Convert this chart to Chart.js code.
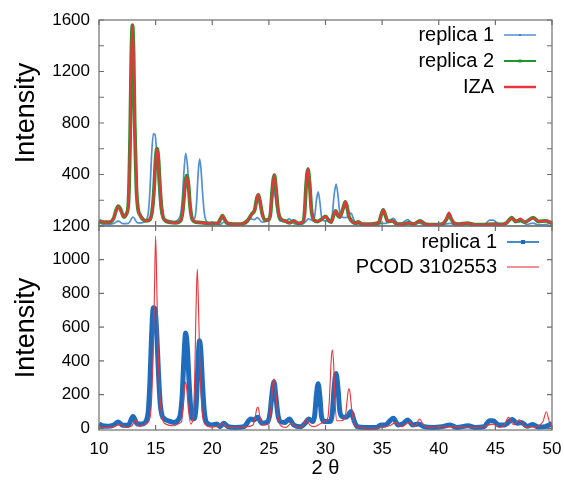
<!DOCTYPE html>
<html>
<head>
<meta charset="utf-8">
<script src="https://cdn.jsdelivr.net/npm/chart.js@4.4.0/dist/chart.umd.min.js"></script>
<style>
body { margin: 0; background: #fff; }
#wrap { position: relative; width: 564px; height: 481px; }
canvas { position: absolute; left: 0; top: 0; }
</style>
</head>
<body>
<div id="wrap">
<canvas id="topChart" width="564" height="481"></canvas>
<canvas id="bottomChart" width="564" height="481"></canvas>
</div>
<script>
// tick values
var xTicks = [10, 15, 20, 25, 30, 35, 40, 45, 50];
var topYTicks = [0, 200, 400, 600, 800, 1000, 1200, 1400, 1600];
var bottomYTicks = [0, 200, 400, 600, 800, 1000, 1200];

// replica 1 (same pattern in both panels)
var rep1Theta = [
  10.0, 10.3, 10.8, 11.3, 11.7, 12.1, 12.6, 13.0, 13.4, 13.8,
  14.0, 14.2, 14.35, 14.5, 14.65, 14.8, 14.95, 15.1, 15.25, 15.4,
  15.55, 15.8, 16.1, 16.6, 17.0, 17.2, 17.35, 17.5, 17.65, 17.8,
  17.95, 18.1, 18.3, 18.45, 18.6, 18.75, 18.88, 19.0, 19.15, 19.3,
  19.5, 20.0, 20.4, 20.7, 21.0, 21.4, 22.0, 22.8, 23.4, 23.7,
  24.0, 24.4, 24.9, 25.1, 25.3, 25.45, 25.6, 25.8, 26.0, 26.4,
  26.8, 27.2, 27.8, 28.2, 28.5, 28.9, 29.05, 29.2, 29.35, 29.5,
  29.65, 29.9, 30.4, 30.6, 30.75, 30.93, 31.1, 31.25, 31.45, 31.8,
  32.0, 32.25, 32.5, 32.8, 33.5, 34.5, 34.9, 35.3, 35.7, 36.0,
  36.4, 36.8, 37.25, 37.7, 38.2, 38.7, 39.5, 40.3, 41.0, 41.6,
  42.6, 43.2, 44.0, 44.5, 44.8, 45.3, 45.8, 46.5, 46.9, 47.3,
  47.8, 48.3, 48.8, 49.4, 50.0
];
var rep1Int = [
  25, 15, 12, 20, 38, 18, 20, 70, 25, 25,
  30, 50, 100, 280, 560, 715, 710, 560, 330, 150,
  80, 55, 45, 35, 50, 90, 200, 420, 565, 480,
  280, 120, 55, 60, 160, 400, 520, 450, 250, 100,
  35, 20, 25, 10, 30, 10, 5, 10, 55, 50,
  65, 30, 40, 90, 220, 275, 200, 80, 40, 35,
  55, 20, 10, 30, 55, 40, 80, 200, 265, 190,
  70, 40, 40, 90, 230, 325, 240, 110, 70, 65,
  75, 100, 50, 10, 5, 5, 20, 20, 45, 60,
  20, 25, 50, 20, 25, 10, 5, 10, 20, 5,
  15, 5, 10, 45, 45, 20, 20, 52, 30, 35,
  12, 22, 8, 10, 28
];

// replica 2
var rep2Theta = [
  10.0, 10.4, 10.9, 11.3, 11.5, 11.7, 11.9, 12.2, 12.4, 12.6,
  12.75, 12.85, 12.95, 13.05, 13.15, 13.3, 13.45, 13.6, 13.9, 14.2,
  14.5, 14.7, 14.85, 15.0, 15.12, 15.25, 15.4, 15.55, 15.75, 16.2,
  16.8, 17.2, 17.4, 17.6, 17.75, 17.9, 18.05, 18.25, 18.6, 19.2,
  19.8, 20.5, 20.7, 20.9, 21.1, 21.35, 21.9, 22.5, 23.1, 23.5,
  23.75, 23.95, 24.07, 24.2, 24.4, 24.65, 25.0, 25.15, 25.3, 25.48,
  25.62, 25.8, 26.0, 26.4, 26.8, 27.2, 27.6, 28.0, 28.15, 28.3,
  28.45, 28.6, 28.75, 28.95, 29.3, 29.7, 30.0, 30.3, 30.5, 30.7,
  30.9, 31.1, 31.25, 31.4, 31.6, 31.75, 31.9, 32.05, 32.3, 32.6,
  32.9, 33.2, 34.0, 34.7, 34.9, 35.1, 35.3, 35.5, 35.9, 36.3,
  36.9, 37.3, 37.8, 38.35, 38.8, 39.5, 40.3, 40.7, 40.9, 41.1,
  41.35, 41.8, 42.5, 43.2, 44.0, 44.8, 45.5, 46.0, 46.45, 46.8,
  47.2, 47.6, 48.35, 48.8, 49.5, 50.0
];
var rep2Int = [
  40, 30, 30, 60, 120, 155, 130, 70, 90, 180,
  700, 1300, 1560, 1350, 800, 300, 130, 90, 50, 40,
  50, 120, 270, 520, 600, 520, 280, 120, 50, 30,
  25, 40, 120, 320, 392, 320, 150, 50, 30, 25,
  20, 20, 50, 80, 50, 22, 15, 15, 40, 95,
  125, 220, 242, 200, 100, 45, 50, 100, 280, 395,
  300, 130, 60, 40, 25, 40, 20, 30, 100, 330,
  440, 330, 130, 50, 35, 55, 75, 40, 30, 80,
  118, 80, 70, 95, 150, 188, 150, 80, 40, 20,
  32, 15, 15, 25, 80, 125, 80, 35, 40, 15,
  15, 25, 15, 40, 15, 10, 15, 55, 92, 55,
  22, 15, 22, 10, 10, 15, 10, 25, 65, 35,
  45, 30, 65, 35, 40, 20
];

// IZA reference pattern (same sampling as replica 2)
var izaTheta = rep2Theta.slice();
var izaInt = [
  40, 30, 30, 60, 115, 150, 125, 70, 90, 180,
  700, 1300, 1560, 1350, 800, 300, 130, 90, 50, 40,
  50, 120, 270, 520, 600, 520, 280, 120, 50, 30,
  25, 40, 115, 310, 380, 310, 145, 50, 30, 25,
  20, 20, 50, 80, 50, 22, 15, 15, 40, 95,
  125, 222, 245, 200, 100, 45, 50, 100, 285, 400,
  300, 130, 60, 40, 25, 40, 20, 30, 100, 335,
  450, 335, 130, 50, 35, 55, 75, 40, 30, 80,
  118, 80, 70, 95, 150, 190, 150, 80, 40, 20,
  32, 15, 15, 25, 80, 125, 80, 35, 40, 15,
  15, 25, 15, 40, 15, 10, 15, 60, 105, 60,
  22, 15, 22, 10, 10, 15, 10, 25, 62, 35,
  58, 30, 62, 35, 40, 20
];

// PCOD 3102553
var pcodTheta = [
  10.0, 10.6, 11.2, 11.9, 12.4, 12.9, 13.2, 13.55, 14.1, 14.5,
  14.65, 14.8, 14.9, 15.0, 15.1, 15.2, 15.35, 15.55, 15.8, 16.6,
  17.1, 17.3, 17.45, 17.55, 17.65, 17.75, 17.9, 18.1, 18.3, 18.45,
  18.55, 18.68, 18.8, 18.92, 19.1, 19.35, 19.8, 20.4, 20.9, 21.4,
  22.3, 23.0, 23.6, 23.8, 23.95, 24.05, 24.2, 24.45, 25.0, 25.2,
  25.35, 25.45, 25.58, 25.75, 26.0, 26.5, 27.0, 27.5, 28.0, 28.3,
  28.6, 29.0, 29.5, 29.9, 30.2, 30.35, 30.5, 30.6, 30.72, 30.85,
  31.0, 31.4, 31.75, 31.9, 32.05, 32.15, 32.3, 32.55, 33.0, 34.0,
  35.0, 35.8, 36.2, 36.7, 37.4, 37.9, 38.3, 38.7, 39.5, 40.5,
  41.5, 42.5, 43.5, 44.8, 45.4, 45.8, 46.15, 46.6, 47.1, 47.6,
  48.5, 49.2, 49.5, 49.8, 50.0
];
var pcodInt = [
  10, 5, 8, 22, 5, 15, 50, 10, 25, 60,
  180, 500, 820, 1140, 850, 520, 220, 70, 30, 15,
  30, 40, 150, 240, 275, 230, 110, 25, 60, 300,
  650, 945, 680, 350, 100, 25, 10, 10, 30, 5,
  5, 10, 20, 70, 120, 125, 70, 20, 25, 130,
  260, 294, 240, 100, 20, 5, 30, 5, 15, 55,
  20, 10, 25, 40, 60, 180, 400, 466, 380, 150,
  45, 45, 70, 160, 235, 220, 120, 25, 5, 0,
  5, 20, 35, 10, 35, 10, 55, 15, 5, 10,
  10, 5, 5, 25, 5, 20, 65, 20, 50, 10,
  8, 40, 98, 30, 10
];

var BLUE = '#1f6cbc';
var BLUE_LIGHT = 'rgba(40,115,200,0.8)';
var GREEN = '#23962b';
var RED = '#e8343a';
var FONT = '"Liberation Sans", Arial, Helvetica, sans-serif';

function pairs(xs, ys) {
  return xs.map(function (x, i) { return { x: x, y: ys[i] }; });
}

// frame, inward ticks, y title and inside legend, gnuplot style
var framePlugin = {
  id: 'frame',
  afterDraw: function (chart, args, opts) {
    var ctx = chart.ctx, a = chart.chartArea;
    var xs = chart.scales.x, ys = chart.scales.y;
    ctx.save();
    ctx.strokeStyle = '#6e6e6e';
    ctx.lineWidth = 1.2;
    ctx.strokeRect(a.left, a.top, a.right - a.left, a.bottom - a.top);
    ctx.beginPath();
    xTicks.forEach(function (v) {
      var px = xs.getPixelForValue(v);
      ctx.moveTo(px, a.bottom); ctx.lineTo(px, a.bottom - 5);
      ctx.moveTo(px, a.top); ctx.lineTo(px, a.top + 5);
    });
    ys.ticks.forEach(function (t) {
      var py = ys.getPixelForValue(t.value);
      ctx.moveTo(a.left, py); ctx.lineTo(a.left + 5, py);
      ctx.moveTo(a.right, py); ctx.lineTo(a.right - 5, py);
    });
    ctx.stroke();

    // y axis title
    ctx.fillStyle = '#000';
    ctx.font = '27px ' + FONT;
    ctx.textAlign = 'center';
    ctx.textBaseline = 'middle';
    ctx.translate(opts.titleX, opts.titleY);
    ctx.rotate(-Math.PI / 2);
    ctx.fillText('Intensity', 0, 0);
    ctx.setTransform(1, 0, 0, 1, 0, 0);

    // legend
    ctx.font = '20px ' + FONT;
    ctx.textAlign = 'right';
    opts.legend.forEach(function (item, i) {
      var y = opts.legendTop + i * opts.legendStep;
      ctx.fillStyle = '#000';
      ctx.fillText(item.text, opts.legendRight, y);
      var x0 = opts.legendRight + 10, x1 = x0 + 32;
      ctx.strokeStyle = item.color;
      ctx.lineWidth = item.width;
      ctx.beginPath();
      ctx.moveTo(x0, y); ctx.lineTo(x1, y);
      ctx.stroke();
      if (item.mark) {
        ctx.fillStyle = item.color;
        var m = item.mark;
        ctx.fillRect((x0 + x1) / 2 - m / 2, y - m / 2, m, m);
      }
    });
    ctx.restore();
  }
};

function xScale(showLabels, bottomHeight) {
  return {
    type: 'linear',
    min: 10,
    max: 50,
    afterBuildTicks: function (s) { s.ticks = xTicks.map(function (v) { return { value: v }; }); },
    afterFit: function (s) { s.height = bottomHeight; s.paddingLeft = 0; s.paddingRight = 0; },
    grid: { display: false, drawTicks: false },
    border: { display: false },
    ticks: {
      display: showLabels,
      padding: 9,
      color: '#000',
      font: { family: FONT, size: 17 }
    },
    title: {
      display: showLabels,
      text: '2 θ',
      color: '#000',
      font: { family: FONT, size: 20 },
      padding: { top: 0, bottom: 1 }
    }
  };
}

function yScale(min, max, tickList, labelFn) {
  return {
    type: 'linear',
    min: min,
    max: max,
    afterBuildTicks: function (s) { s.ticks = tickList.map(function (v) { return { value: v }; }); },
    afterFit: function (s) { s.width = 99; },
    grid: { display: false, drawTicks: false },
    border: { display: false },
    ticks: {
      padding: 9,
      color: '#000',
      font: { family: FONT, size: 17 },
      callback: labelFn
    }
  };
}

var lineDefaults = {
  pointRadius: 0,
  cubicInterpolationMode: 'monotone',
  fill: false
};

// nudge layout padding so the plot box lands where the figure has it
function placeArea(chart, box) {
  var a = chart.chartArea, p = chart.options.layout.padding;
  p.left += box.left - a.left;
  p.right += a.right - box.right;
  p.top += box.top - a.top;
  p.bottom += a.bottom - box.bottom;
  chart.update();
}

var topChart = new Chart(document.getElementById('topChart'), {
  type: 'line',
  data: {
    datasets: [
      Object.assign({ label: 'IZA', data: pairs(izaTheta, izaInt), borderColor: RED, borderWidth: 2.2 }, lineDefaults),
      Object.assign({ label: 'replica 2', data: pairs(rep2Theta, rep2Int), borderColor: GREEN, borderWidth: 3.8 }, lineDefaults),
      Object.assign({ label: 'replica 1', data: pairs(rep1Theta, rep1Int), borderColor: BLUE_LIGHT, borderWidth: 1.7 }, lineDefaults)
    ]
  },
  options: {
    responsive: false,
    animation: false,
    devicePixelRatio: 1,
    layout: { autoPadding: false, padding: { left: 0, top: 20, right: 12, bottom: 0 } },
    scales: {
      x: xScale(false, 255),
      y: yScale(0, 1600, topYTicks, function (v) { return (v > 0 && v % 400 === 0) ? v : ''; })
    },
    plugins: {
      legend: { display: false },
      tooltip: { enabled: false },
      frame: {
        titleX: 27, titleY: 113,
        legendRight: 494, legendTop: 35, legendStep: 26,
        legend: [
          { text: 'replica 1', color: BLUE_LIGHT, width: 1.5, mark: 2 },
          { text: 'replica 2', color: GREEN, width: 2, mark: 3 },
          { text: 'IZA', color: RED, width: 2.5 }
        ]
      }
    }
  },
  plugins: [framePlugin]
});
placeArea(topChart, { left: 99, right: 552, top: 20, bottom: 226 });

var bottomChart = new Chart(document.getElementById('bottomChart'), {
  type: 'line',
  data: {
    datasets: [
      Object.assign({ label: 'PCOD 3102553', data: pairs(pcodTheta, pcodInt), borderColor: RED, borderWidth: 1.1 }, lineDefaults),
      Object.assign({ label: 'replica 1', data: pairs(rep1Theta, rep1Int), borderColor: BLUE, borderWidth: 5 }, lineDefaults)
    ]
  },
  options: {
    responsive: false,
    animation: false,
    devicePixelRatio: 1,
    layout: { autoPadding: false, padding: { left: 0, top: 226, right: 12, bottom: 0 } },
    scales: {
      x: xScale(true, 51),
      y: yScale(-10, 1200, bottomYTicks, function (v) { return v; })
    },
    plugins: {
      legend: { display: false },
      tooltip: { enabled: false },
      frame: {
        titleX: 27, titleY: 328,
        legendRight: 497, legendTop: 242, legendStep: 25,
        legend: [
          { text: 'replica 1', color: BLUE, width: 1.6, mark: 4 },
          { text: 'PCOD 3102553', color: RED, width: 1.1 }
        ]
      }
    }
  },
  plugins: [framePlugin]
});
placeArea(bottomChart, { left: 99, right: 552, top: 226, bottom: 430 });
</script>
</body>
</html>
